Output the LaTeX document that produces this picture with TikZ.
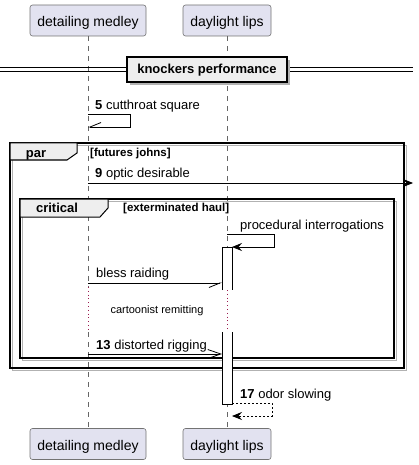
\documentclass[tikz,border=0pt]{standalone}
\usepackage{fontspec}
\setmainfont{Liberation Sans}
\usetikzlibrary{arrows.meta}
\definecolor{partfill}{HTML}{E2E2F0}
\definecolor{grpfill}{HTML}{EEEEEE}
\definecolor{delaycol}{HTML}{9B1B50}
\begin{document}
\begin{tikzpicture}[x=1pt,y=-1pt,
  part/.style={draw=black!55, line width=0.6pt, fill=partfill, rounded corners=2.5pt,
    minimum height=31pt, inner sep=0pt, text height=14.5pt, text depth=2.5pt, font=\fontsize{14}{16}\selectfont},
  life/.style={draw=black!60, line width=0.5pt, dash pattern=on 5pt off 5pt},
  delayline/.style={draw=delaycol, line width=0.8pt, dash pattern=on 0.8pt off 3pt},
  msg/.style={draw=black, line width=0.8pt},
  lbl/.style={font=\fontsize{13}{15}\selectfont, anchor=base west, inner sep=0pt},
  smalllbl/.style={font=\fontsize{11}{13}\selectfont, anchor=base, inner sep=0pt},
  condlbl/.style={font=\bfseries\fontsize{11.5}{13}\selectfont, anchor=base west, inner sep=0pt},
  tablbl/.style={font=\bfseries\fontsize{13}{15}\selectfont, anchor=base, inner sep=0pt},
  frameline/.style={draw=black, line width=1.5pt},
  shadowline/.style={draw=black!30, line width=1.5pt},
  tabshape/.style={draw=black, line width=1pt, fill=grpfill},
  filledtip/.style={-{Stealth[length=10pt,width=8pt,inset=3.5pt]}},
  halftip/.style={-{Straight Barb[harpoon,swap,length=11pt,width=9pt]}},
  opentip/.style={-{Straight Barb[length=13pt,width=9pt]}}
]
\useasboundingbox (0,0) rectangle (419,465);

% participants
\node[part, minimum width=116pt] (dmT) at (88,20.5) {detailing medley};
\node[part, minimum width=88pt] (dlT) at (227,20.5) {daylight lips};
\node[part, minimum width=116pt] (dmB) at (88,444) {detailing medley};
\node[part, minimum width=88pt] (dlB) at (227,444) {daylight lips};

% lifeline break coordinates (delay)
\coordinate (dmD1) at (88,287);
\coordinate (dmD2) at (88,332);
\coordinate (dlD1) at (227,290);
\coordinate (dlD2) at (227,332);

\draw[life] (dmT.south) -- (dmD1);
\draw[life] (dmD2) -- (dmB.north);
\draw[life] (dlT.south) -- (dlD1);
\draw[life] (dlD2) -- (dlB.north);
\draw[delayline] (dmD1) -- (dmD2);
\draw[delayline] (dlD1) -- (dlD2);

% divider
\draw[line width=0.8pt] (0,67.7) -- (413,67.7);
\draw[line width=0.8pt] (0,71.7) -- (413,71.7);
\fill[black!30] (130,60) rectangle (290,85);
\node[draw=black, line width=1.6pt, fill=grpfill, minimum width=160pt, minimum height=25pt,
  inner sep=0pt] (div) at (207,69.5) {};
\node[tablbl] (divlbl) at (207,74) {knockers performance};

% frame shadows
\draw[shadowline] (12.5,145.5) rectangle (406.5,370.5);
\draw[shadowline] (22.5,201.5) rectangle (396.5,360.5);
% par frame
\draw[frameline] (10,143) rectangle (404,368);
\draw[tabshape] (10,143) -- (77,143) -- (77,153) -- (67,160) -- (10,160) -- cycle;
\node[tablbl] (parlbl) at (36,157.5) {par};
\node[condlbl] (parcond) at (90,156.5) {[futures johns]};
% critical frame
\draw[frameline] (20,199) rectangle (394,358);
\draw[tabshape] (20,199) -- (108,199) -- (108,208) -- (100,217) -- (20,217) -- cycle;
\node[tablbl] (critlbl) at (57,212.5) {critical};
\node[condlbl] (critcond) at (123,211.7) {[exterminated haul]};

% activation box (broken by delay)
\fill[white] (222,247) rectangle (232,290);
\fill[white] (222,332) rectangle (232,404);
\coordinate (a1) at (222,247);
\coordinate (a2) at (232,247);
\coordinate (a3) at (222,290);
\coordinate (a4) at (232,290);
\coordinate (a5) at (222,332);
\coordinate (a6) at (232,332);
\coordinate (a7) at (222,404);
\coordinate (a8) at (232,404);
\draw[line width=0.8pt] (a3) -- (a1) -- (a2) -- (a4);
\draw[line width=0.8pt] (a5) -- (a7) -- (a8) -- (a6);

% message 5 (self)
\coordinate (m5s) at (88,114);
\coordinate (m5e) at (88,127);
\node[lbl] (m5lbl) at (95,109.5) {\textbf{5} cutthroat square};
\draw[msg, halftip] (m5s) -- (130,114) -- (130,127) -- (m5e);

% message 9
\coordinate (m9s) at (88,183);
\coordinate (m9e) at (413,183);
\node[lbl] (m9lbl) at (95,177) {\textbf{9} optic desirable};
\draw[msg, filledtip] (m9s) -- (m9e);

% procedural interrogations (self)
\coordinate (mps) at (227,234);
\coordinate (mpe) at (232,247);
\node[lbl] (mplbl) at (240,229.5) {procedural interrogations};
\draw[msg, filledtip] (mps) -- (274,234) -- (274,247) -- (mpe);

% bless raiding
\coordinate (mbs) at (88,283);
\node[lbl] (mblbl) at (96,277) {bless raiding};
\draw[msg, halftip] (mbs) -- (a3 |- mbs);

% delay text
\node[smalllbl] (delaylbl) at (157,313.3) {cartoonist remitting};

% message 13
\coordinate (m13s) at (88,354);
\node[lbl] (m13lbl) at (96,349.2) {\textbf{13} distorted rigging};
\draw[msg, opentip] (m13s) -- (a5 |- m13s);

% message 17 (self return)
\coordinate (m17s) at (232,403);
\coordinate (m17e) at (232,416);
\node[lbl] (m17lbl) at (240,398.5) {\textbf{17} odor slowing};
\draw[msg, dash pattern=on 2pt off 2pt, filledtip] (m17s) -- (272,403) -- (272,416) -- (m17e);

\end{tikzpicture}
\end{document}
